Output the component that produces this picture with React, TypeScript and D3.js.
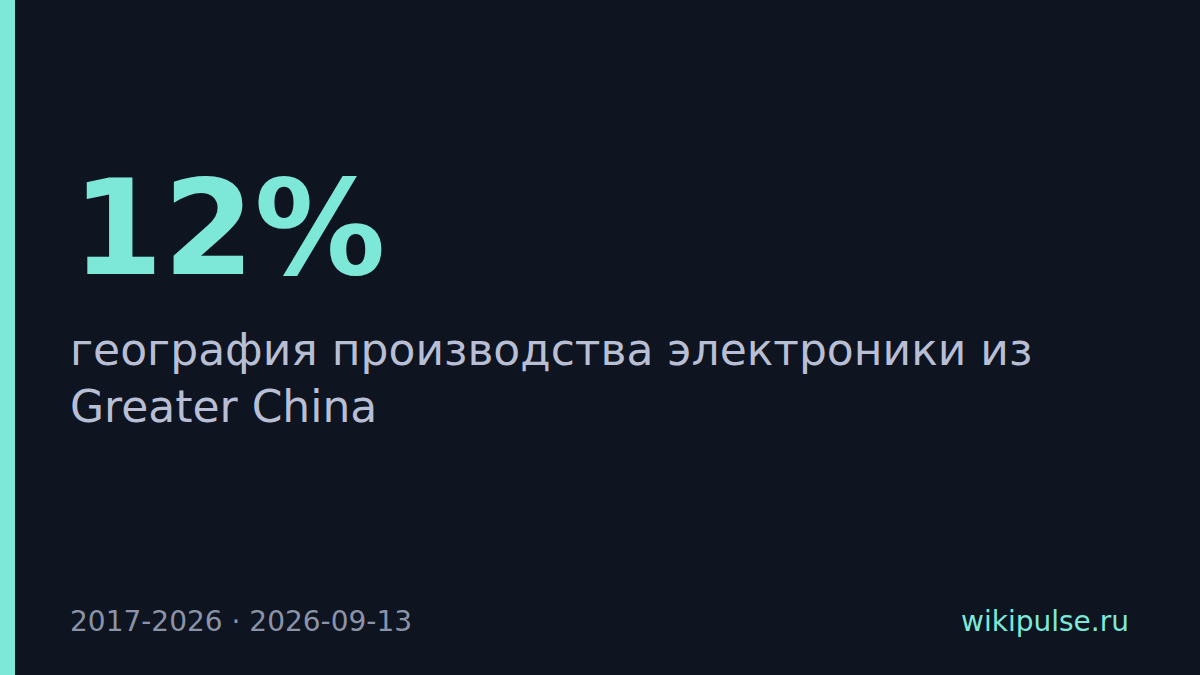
import { useEffect, useRef } from "react";
import * as d3 from "d3";

const headline = ["12%"];
const subtitleLines = ["география производства электроники из", "Greater China"];
const footerLeft = ["2017-2026 · 2026-09-13"];
const footerRight = ["wikipulse.ru"];

const App = () => {
  const ref = useRef<SVGSVGElement>(null);

  useEffect(() => {
    const width = 1200;
    const height = 675;
    const svg = d3.select(ref.current);
    svg.selectAll("*").remove();

    svg.append("rect").attr("width", width).attr("height", height).attr("fill", "#0e1420");
    svg.append("rect").attr("width", 15).attr("height", height).attr("fill", "#7ee8d8");

    svg
      .selectAll(".big")
      .data(headline)
      .enter()
      .append("text")
      .attr("x", 72)
      .attr("y", 274)
      .attr("font-family", "DejaVu Sans")
      .attr("font-weight", "bold")
      .attr("font-size", 131)
      .attr("fill", "#7ee8d8")
      .text((d) => d);

    const y = d3.scalePoint<number>().domain(d3.range(subtitleLines.length)).range([365, 422]);

    svg
      .selectAll(".sub")
      .data(subtitleLines)
      .enter()
      .append("text")
      .attr("x", 70)
      .attr("y", (_, i) => y(i) || 0)
      .attr("font-family", "DejaVu Sans")
      .attr("font-size", 44)
      .attr("fill", "#b8bfd4")
      .text((d) => d);

    svg
      .append("text")
      .attr("x", 70)
      .attr("y", 631)
      .attr("font-family", "DejaVu Sans")
      .attr("font-size", 28)
      .attr("fill", "#8a93a8")
      .text(footerLeft[0]);

    svg
      .append("text")
      .attr("x", 1129)
      .attr("y", 631)
      .attr("text-anchor", "end")
      .attr("font-family", "DejaVu Sans")
      .attr("font-size", 28)
      .attr("fill", "#7ee8d8")
      .text(footerRight[0]);
  }, []);

  return <svg ref={ref} width={1200} height={675} style={{ position: "absolute", left: 0, top: 0 }} />;
};

export default App;
